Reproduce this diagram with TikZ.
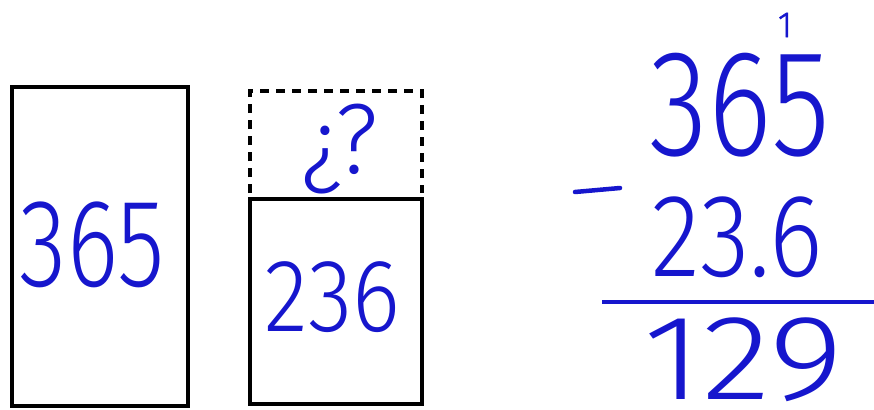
\documentclass[tikz,border=0pt]{standalone}
\usepackage{graphicx}
\usepackage{fontspec}
\newfontfamily\handfont{Fira Sans}[UprightFont=* Light]
\definecolor{ink}{RGB}{22,22,205}
\newcommand{\fitbox}[3]{\resizebox*{#1pt}{#2pt}{\handfont #3}}
\begin{document}
\begin{tikzpicture}[x=1pt,y=-1pt,
  box/.style={draw=black,line width=4pt},
  dashbox/.style={draw=black,line width=3.5pt,dash pattern=on 9pt off 7pt},
  num/.style={text=ink,inner sep=0pt,anchor=center},
  inkline/.style={draw=ink,line width=4.5pt}]
\useasboundingbox (0,0) rectangle (874,409);
% boxes
\node[box,minimum width=176pt,minimum height=319pt,inner sep=0pt] (big) at (100,246.5) {};
\node[box,minimum width=172pt,minimum height=205pt,inner sep=0pt] (small) at (336,301.5) {};
\coordinate (q1) at (250,193);
\coordinate (q2) at (250,91);
\coordinate (q3) at (422,91);
\coordinate (q4) at (422,193);
\draw[dashbox] (q1) -- (q2) -- (q3) -- (q4);
% texts in boxes
\node[num] (t365) at (92.5,245) {\fitbox{145}{86}{365}};
\node[num] (t236) at (332.5,297.5) {\fitbox{135}{71}{236}};
\node[num] (tq) at (340,149) {\fitbox{76}{90}{¿?}};
% subtraction
\node[num] (carry) at (785,25) {\fitbox{14}{24}{\addfontfeatures{FakeBold=1.5}1}};
\node[num] (a365) at (740,105) {\fitbox{180}{104}{365}};
\coordinate (m1) at (575,192);
\coordinate (m2) at (620,188);
\draw[inkline,line cap=round] (m1) -- (m2);
\node[num] (a236) at (737.5,237.5) {\fitbox{171}{81}{23.6}};
\coordinate (l1) at (602,302);
\coordinate (l2) at (874,302);
\draw[inkline] (l1) -- (l2);
\node[num] (a129) at (743.5,360) {\fitbox{200}{84}{129}};
\end{tikzpicture}
\end{document}
